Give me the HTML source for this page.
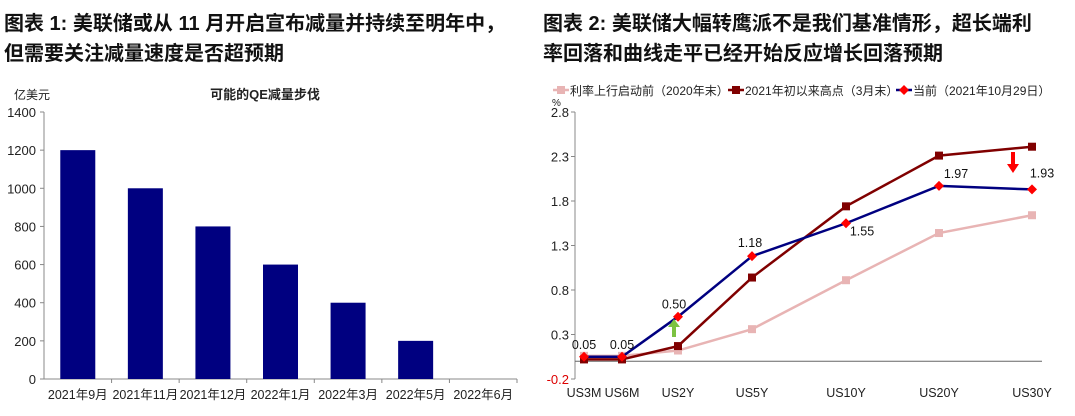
<!DOCTYPE html>
<html><head><meta charset="utf-8"><style>
body{margin:0;width:1075px;height:416px;background:#fff;overflow:hidden;font-family:"Liberation Sans","Noto Sans CJK SC",sans-serif;}
.t{position:absolute;font-weight:bold;font-size:20px;line-height:30px;color:#111;}
svg{position:absolute;left:0;top:0}
svg text{font-family:"Liberation Sans","Noto Sans CJK SC",sans-serif;}
</style></head><body>
<div class="t" style="left:4px;top:9px;width:530px">图表 1: 美联储或从 11 月开启宣布减量并持续至明年中，<br>但需要关注减量速度是否超预期</div>
<div class="t" style="left:543px;top:9px;width:530px">图表 2: 美联储大幅转鹰派不是我们基准情形，超长端利<br>率回落和曲线走平已经开始反应增长回落预期</div>
<svg width="1075" height="416" id="s"></svg>
<script>
const barCats=["2021年9月","2021年11月","2021年12月","2022年1月","2022年3月","2022年5月","2022年6月"];
const barVals=[1200,1000,800,600,400,200,0];
const barTicks=[0,200,400,600,800,1000,1200,1400];
const lineCats=["US3M","US6M","US2Y","US5Y","US10Y","US20Y","US30Y"];
const pinkVals=[0.06,0.06,0.12,0.36,0.91,1.44,1.64];
const redVals=[0.02,0.02,0.17,0.94,1.74,2.31,2.41];
const blueVals=[0.05,0.05,0.50,1.18,1.55,1.97,1.93];
const blueLabels=["0.05","0.05","0.50","1.18","1.55","1.97","1.93"];
const lineTicks=[-0.2,0.3,0.8,1.3,1.8,2.3,2.8];
const NS="http://www.w3.org/2000/svg";const s=document.getElementById('s');
function el(t,a,txt){const e=document.createElementNS(NS,t);for(const k in a)e.setAttribute(k,a[k]);if(txt!=null)e.textContent=txt;s.appendChild(e);return e;}
// chart 1
const y1=v=>379-(v/1400)*267, x0=44, bw=(517-44)/7;
let e=el('text',{x:14,y:99,'font-size':12,fill:'#222'},'亿美元');
e=el('text',{x:265,y:99,'font-size':13,'font-weight':'bold','text-anchor':'middle',fill:'#222'},'可能的QE减量步伐');
el('line',{x1:x0,y1:112,x2:x0,y2:379,stroke:'#888'});
el('line',{x1:x0,y1:379,x2:517,y2:379,stroke:'#888'});
barTicks.forEach(v=>{el('line',{x1:x0-4,y1:y1(v),x2:x0,y2:y1(v),stroke:'#888'});
 const t=el('text',{x:x0-8,y:y1(v)+5,'font-size':13,'text-anchor':'end',fill:'#222'},v);});
barCats.forEach((c,i)=>{el('line',{x1:x0+bw*(i+1),y1:379,x2:x0+bw*(i+1),y2:383,stroke:'#888'});
 const cx=x0+bw*(i+0.5);
 if(barVals[i]>0){const r=el('rect',{x:cx-17.5,y:y1(barVals[i]),width:35,height:379-y1(barVals[i]),fill:'#000080'});}
 const t=el('text',{x:cx,y:399,'font-size':12.5,'text-anchor':'middle',fill:'#222'},c);});
// chart 2
const xPos=[584,622,678,752,846,939,1032];
const y2=v=>112+(2.8-v)/3*267;
const ax=575;
el('line',{x1:ax,y1:112,x2:ax,y2:379,stroke:'#888'});
el('line',{x1:ax,y1:y2(0),x2:1042,y2:y2(0),stroke:'#666'});
lineTicks.forEach(v=>{el('line',{x1:ax-4,y1:y2(v),x2:ax,y2:y2(v),stroke:'#888'});
 const t=el('text',{x:ax-6,y:y2(v)+5,'font-size':13,'text-anchor':'end',fill:v<0?'#d00':'#222'},v.toFixed(1));});
e=el('text',{x:552,y:106,'font-size':10,fill:'#222'},'%');
lineCats.forEach((c,i)=>{const t=el('text',{x:xPos[i],y:397,'font-size':12.5,'text-anchor':'middle',fill:'#222'},c);});
function series(vals,color,mk,name){const p=el('polyline',{points:vals.map((v,i)=>xPos[i]+','+y2(v)).join(' '),fill:'none',stroke:color,'stroke-width':2.5});
 vals.forEach((v,i)=>{let m;if(mk==='sq')m=el('rect',{x:xPos[i]-4,y:y2(v)-4,width:8,height:8,fill:color});else m=el('polygon',{points:`${xPos[i]},${y2(v)-5} ${xPos[i]+5},${y2(v)} ${xPos[i]},${y2(v)+5} ${xPos[i]-5},${y2(v)}`,fill:'#f00'});});}
series(pinkVals,'#e8b4b4','sq','pink');
series(redVals,'#800000','sq','red');
series(blueVals,'#000080','dia','blue');
const lblOff=[[0,-12],[0,-12],[-4,-12],[-2,-13],[16,8],[17,-12],[10,-16]];
blueVals.forEach((v,i)=>{const t=el('text',{x:xPos[i]+lblOff[i][0],y:y2(v)+lblOff[i][1]+4,'font-size':12.5,'text-anchor':'middle',fill:'#111'},blueLabels[i]);});
// arrows
el('polygon',{points:'672,337 676,337 676,327 680,327 674,319 668,327 672,327',fill:'#7cc242'});
el('polygon',{points:'1011,152 1015,152 1015,164 1019,164 1013,173 1007,164 1011,164',fill:'#f00'});
// legend
const leg=[['利率上行启动前（2020年末）','#e8b4b4','sq',553],['2021年初以来高点（3月末）','#800000','sq',728],['当前（2021年10月29日）','#000080','dia',896]];
leg.forEach(([t,c,m,x])=>{el('line',{x1:x,y1:90,x2:x+16,y2:90,stroke:c,'stroke-width':2.5});
 if(m==='sq')el('rect',{x:x+4,y:86,width:8,height:8,fill:c});else el('polygon',{points:`${x+8},85 ${x+13},90 ${x+8},95 ${x+3},90`,fill:'#f00'});
 const tt=el('text',{x:x+17,y:95,'font-size':12,fill:'#222'},t);});
</script>
</body></html>
